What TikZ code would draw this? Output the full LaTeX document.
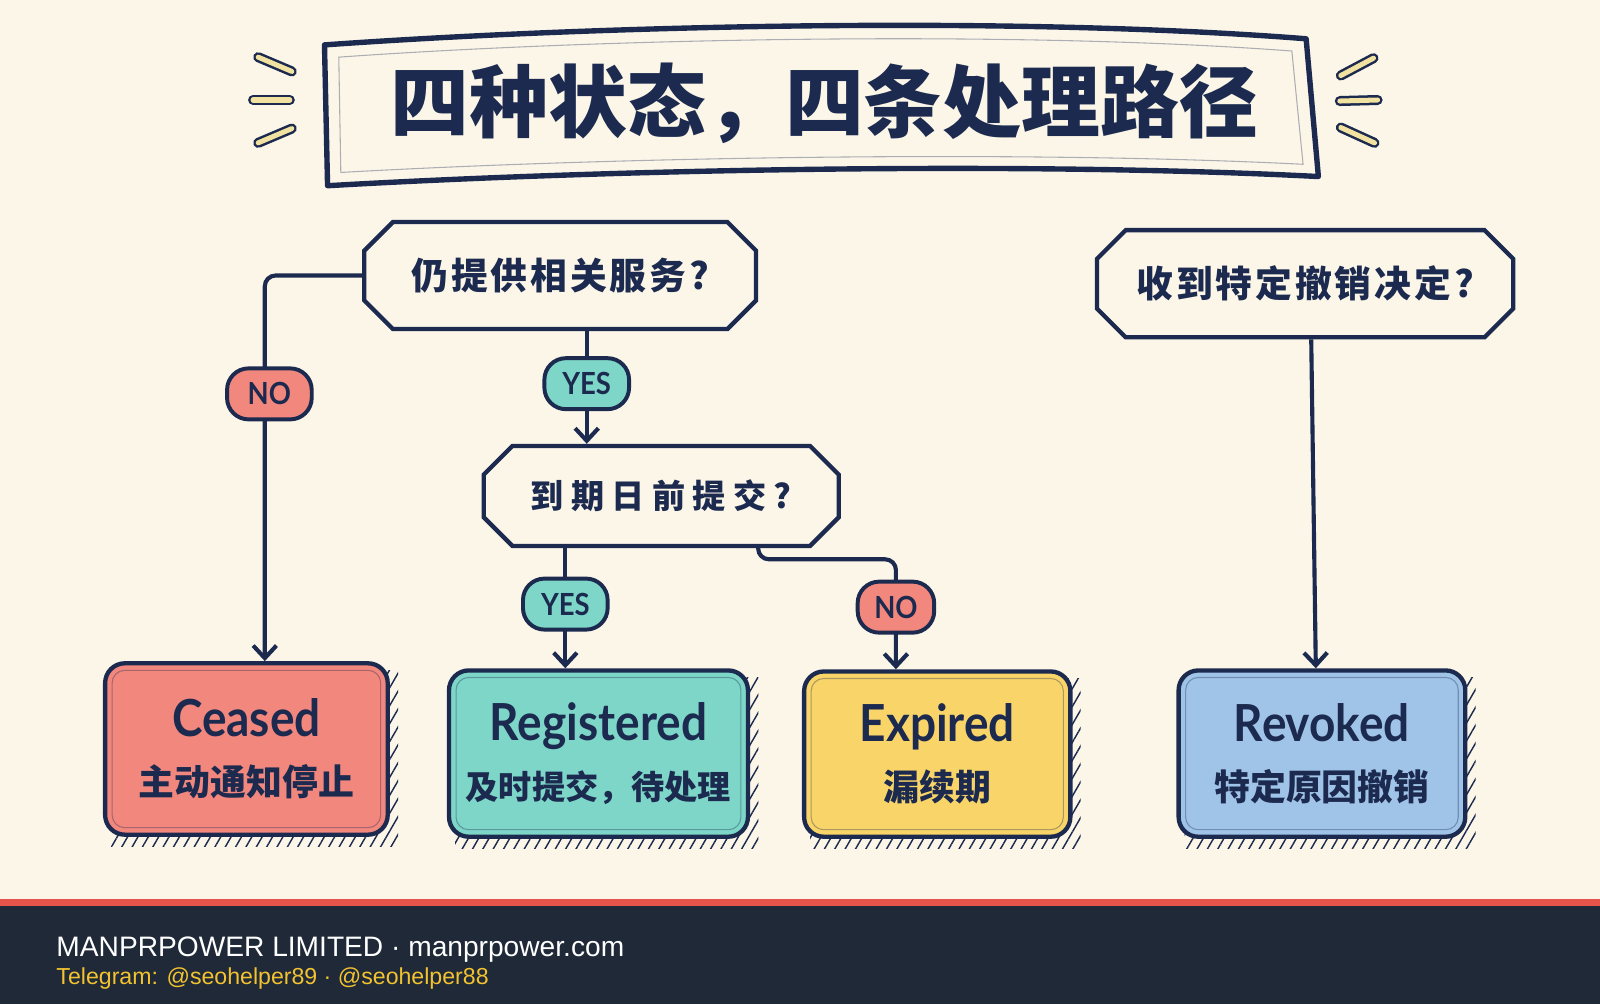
\documentclass[tikz,border=0pt]{standalone}
\usepackage{fontspec}
\setmainfont{Liberation Sans}
\newfontfamily\cjkfont{Noto Sans CJK SC}
\newfontfamily\latfont{Lato}[FakeStretch=0.9]
\usetikzlibrary{positioning, arrows.meta, shapes.misc, calc, backgrounds, patterns.meta}
\definecolor{inkblue}{HTML}{1B2A4E}
\definecolor{paper}{HTML}{FCF6E9}
\definecolor{ceasedfill}{HTML}{F2877D}
\definecolor{regfill}{HTML}{7DD6C8}
\definecolor{expfill}{HTML}{F9D468}
\definecolor{revfill}{HTML}{A0C4E8}
\definecolor{sparkfill}{HTML}{F1E2A2}
\definecolor{footbg}{HTML}{1F2937}
\definecolor{footred}{HTML}{E5534B}
\definecolor{footgold}{HTML}{F2C230}
\tikzset{
  flowdec/.style   = {draw=inkblue, line width=2.4pt, chamfered rectangle,
                      chamfered rectangle xsep=8pt, chamfered rectangle ysep=8pt,
                      fill=paper, text=inkblue, inner sep=0pt,
                      font=\cjkfont\bfseries\fontsize{20.5}{24}\selectfont},
  flowstate/.style = {draw=inkblue, line width=2.4pt, rounded corners=11pt,
                      align=center, text=inkblue, inner sep=0pt,
                      font=\cjkfont\bfseries\fontsize{20}{33}\selectfont},
  flowtag/.style   = {draw=inkblue, line width=2.2pt, rounded corners=12pt,
                      minimum width=1.66cm, minimum height=1.0cm, inner sep=0pt,
                      text=inkblue, font=\latfont\bfseries\fontsize{17}{20}\selectfont},
  flowarrow/.style = {draw=inkblue, line width=2.3pt, rounded corners=6pt,
                      -{Straight Barb[length=7pt,width=13pt]}},
  innerline/.style = {draw=inkblue, opacity=0.35, line width=0.6pt},
  foottext/.style  = {anchor=base west, inner sep=0pt}
}
\newcommand{\sttitle}[1]{{\latfont\fontsize{28.5}{33}\selectfont #1}}

\begin{document}
\begin{tikzpicture}[x=0.02cm, y=-0.02cm]
  \useasboundingbox (0,0) rectangle (1568,984);

  \draw[inkblue, line width=3pt, fill=paper, line join=round]
    (318,44) .. controls (600,24) and (1000,16) .. (1280,38)
    -- (1292,173) .. controls (1000,158) and (600,166) .. (321,182) -- cycle;
  \draw[innerline] (332,56) .. controls (600,37) and (1000,30) .. (1266,50)
    -- (1277,161) .. controls (1000,147) and (600,154) .. (334,169) -- cycle;
  \node[text=inkblue, font=\cjkfont\bfseries\fontsize{44}{50}\selectfont] (title)
        at (808,101) {四种状态，四条处理路径};

  \foreach \xa/\ya/\xb/\yb in {253/56/286/70, 248/98/284/98, 253/140/286/126,
                               1314/74/1346/57, 1313/99/1350/98, 1314/125/1347/140} {
    \draw[inkblue, line width=5.6pt, line cap=round] (\xa,\ya) -- (\xb,\yb);
    \draw[sparkfill, line width=2.8pt, line cap=round] (\xa,\ya) -- (\xb,\yb);
  }

  \node[flowdec, minimum width=7.68cm, minimum height=2.1cm]  (d1) at (549,270)
        {\addfontfeatures{LetterSpace=8}仍提供相关服务?};
  \node[flowdec, minimum width=6.96cm, minimum height=1.96cm] (d2) at (648,486)
        {\fontsize{18.5}{24}\selectfont\addfontfeatures{LetterSpace=22}到期日前提交?};
  \node[flowdec, minimum width=8.16cm, minimum height=2.1cm]  (d3) at (1279,278)
        {\addfontfeatures{LetterSpace=8}收到特定撤销决定?};

  \node[flowstate, fill=ceasedfill, minimum width=5.54cm, minimum height=3.36cm]
        (ceased) at (241.5,734) {\sttitle{Ceased}\\主动通知停止};
  \node[flowstate, fill=regfill, minimum width=5.86cm, minimum height=3.26cm]
        (registered) at (586.5,738.5)
        {\sttitle{Registered}\\{\fontsize{18.5}{33}\selectfont 及时提交，待处理}};
  \node[flowstate, fill=expfill, minimum width=5.22cm, minimum height=3.24cm]
        (expired) at (918.5,739) {\sttitle{Expired}\\漏续期};
  \node[flowstate, fill=revfill, minimum width=5.62cm, minimum height=3.26cm]
        (revoked) at (1295.5,738.5) {\sttitle{Revoked}\\特定原因撤销};

  \foreach \b in {ceased, registered, expired, revoked}
    \draw[innerline, rounded corners=7pt] ([shift={(9,9)}]\b.north west)
          rectangle ([shift={(-9,-9)}]\b.south east);

  \draw[flowarrow] (d1.west) -| ($(ceased.north)+(18,0)$);
  \draw[flowarrow] (d1.south -| 575,0) -- (d2.north -| 575,0);
  \draw[flowarrow] (d2.south -| 554,0) -- (registered.north -| 554,0);
  \draw[flowarrow] ($(d2.south)+(95,0)$) |- ($(d2.south -| 878,0)+(0,11)$)
        -- (expired.north -| 878,0);
  \draw[flowarrow] ($(d3.south)+(6,0)$) -- ($(revoked.north)+(-6,0)$);

  \node[flowtag, fill=ceasedfill] (no1)  at (264,386) {NO};
  \node[flowtag, fill=regfill]    (yes1) at (575,376) {YES};
  \node[flowtag, fill=regfill]    (yes2) at (554,592) {YES};
  \node[flowtag, fill=ceasedfill, minimum width=1.5cm] (no2) at (878,595) {NO};

  \node[foottext, text=white, font=\fontsize{15.7}{18}\selectfont] (footmain)
        at (55,937) {MANPRPOWER LIMITED · manprpower.com};
  \node[foottext, text=footgold, font=\fontsize{12.9}{15}\selectfont] (foottele)
        at (55,965) {Telegram: @seohelper89 · @seohelper88};

  \begin{scope}[on background layer]
    \fill[paper] (0,0) rectangle (1568,882);
    \fill[footred] (0,881) rectangle (1568,888);
    \fill[footbg] (0,888) rectangle (1568,984);
    \foreach \b in {ceased, registered, expired, revoked}
      \fill[pattern={Lines[angle=60, distance=5pt, line width=0.8pt]},
            pattern color=inkblue]
            ([shift={(8,9)}]\b.north west) rectangle ([shift={(8,9)}]\b.south east);
  \end{scope}
\end{tikzpicture}
\end{document}
